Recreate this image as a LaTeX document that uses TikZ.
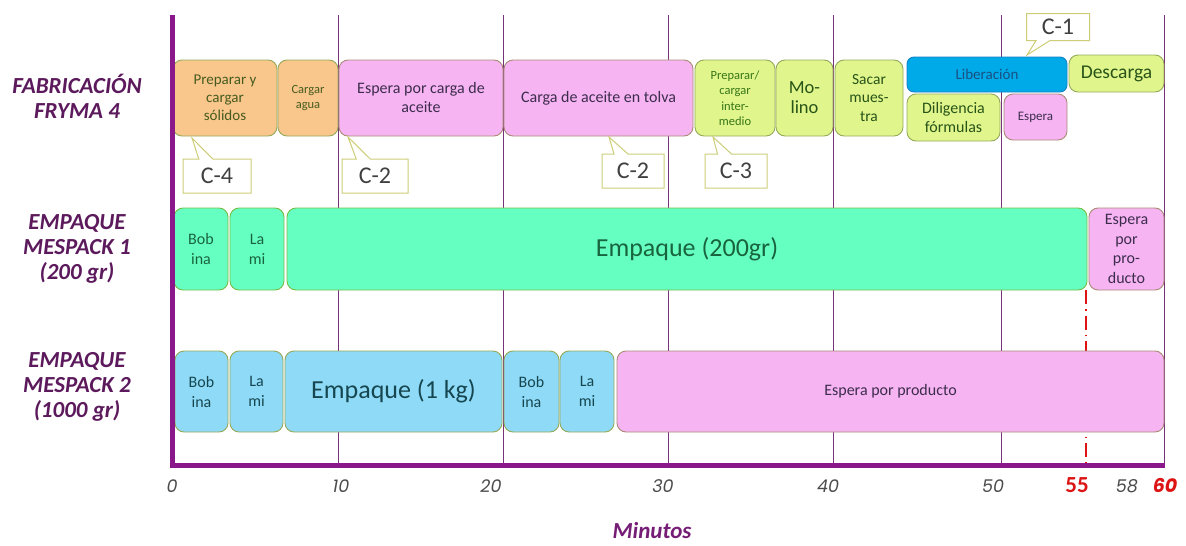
\documentclass[tikz,border=0pt]{standalone}
\usepackage{fontspec}
\setmainfont{Carlito}
\newfontfamily\axfont{Poppins}
\usetikzlibrary{shapes.callouts}
\definecolor{axpurple}{RGB}{138,24,138}
\definecolor{gridpurple}{RGB}{120,50,120}
\definecolor{labpurple}{RGB}{92,26,92}
\definecolor{minpurple}{RGB}{118,30,118}
\definecolor{orngF}{RGB}{249,198,140}
\definecolor{pnkF}{RGB}{246,180,242}
\definecolor{ygF}{RGB}{224,245,140}
\definecolor{bluF}{RGB}{0,170,232}
\definecolor{mintF}{RGB}{102,255,194}
\definecolor{lbluF}{RGB}{143,219,247}
\definecolor{olivB}{RGB}{150,170,90}
\definecolor{pnkB}{RGB}{170,140,120}
\definecolor{bluB}{RGB}{20,130,200}
\definecolor{callB}{RGB}{205,205,120}
\definecolor{olivT}{RGB}{70,92,30}
\definecolor{pnkT}{RGB}{60,44,76}
\definecolor{grnT}{RGB}{40,84,24}
\definecolor{lgrnT}{RGB}{56,118,24}
\definecolor{bluT}{RGB}{26,80,130}
\definecolor{mintT}{RGB}{24,100,62}
\definecolor{lbluT}{RGB}{22,70,80}
\definecolor{axgray}{RGB}{75,75,75}
\definecolor{redlbl}{RGB}{220,20,20}
\newcommand\tbox[7]{%
  \pgfmathsetmacro\bw{#4-#2}\pgfmathsetmacro\bh{#5-#3}%
  \node[#6, minimum width=\bw pt, minimum height=\bh pt] (#1) at ({(#2+#4)/2},{(#3+#5)/2}) {#7};}
\newcommand\fs[2]{\fontsize{#1}{#2}\selectfont}
\begin{document}
\begin{tikzpicture}[x=1pt,y=-1pt,
  tb/.style={draw, rounded corners=9pt, line width=0.9pt, align=center, inner sep=0pt},
  orng/.style={tb, fill=orngF, draw=olivB, text=olivT},
  pnk/.style={tb, fill=pnkF, draw=pnkB, text=pnkT},
  yg/.style={tb, fill=ygF, draw=olivB, text=grnT},
  blu/.style={tb, fill=bluF, draw=bluB, text=bluT, rounded corners=7pt},
  mint/.style={tb, fill=mintF, draw=olivB!80!green, text=mintT},
  lblu/.style={tb, fill=lbluF, draw=olivB, text=lbluT},
  callbox/.style={rectangle callout, draw=callB, fill=white, line width=1pt, text=black!75,
     font=\fs{24}{26}, callout pointer width=14pt, inner sep=0pt},
  rowlab/.style={align=center, text=labpurple, font=\bfseries\itshape\fs{23}{25}},
  axnum/.style={text=axgray, font=\axfont\itshape\fs{17.5}{19}},
  gridline/.style={draw=gridpurple, line width=0.8pt},
  axisline/.style={draw=axpurple, line width=5pt},
  redline/.style={draw=redlbl, line width=1.3pt, dash pattern=on 14pt off 5pt on 1.5pt off 5pt}]
\useasboundingbox (0,0) rectangle (1186,546);
\fill[white] (0,0) rectangle (1186,546);
% grid
\foreach \gx in {338,503,668,833,1001,1164}
  \draw[gridline] (\gx,15) -- (\gx,465);
\draw[redline] (1086,290) -- (1086,465);
% row 1
\tbox{rA}{173}{60}{277}{136}{orng, font=\fs{15}{18}}{Preparar y\\cargar\\sólidos}
\tbox{rB}{278}{60}{338}{136}{orng, font=\fs{12.5}{15.5}}{Cargar\\agua}
\tbox{rC}{339}{60}{503}{136}{pnk, font=\fs{16}{19}}{Espera por carga de\\aceite}
\tbox{rD}{504}{60}{693}{136}{pnk, font=\fs{16}{18}}{Carga de aceite en tolva}
\tbox{rE}{695}{60}{775}{136}{yg, text=lgrnT, font=\fs{12.5}{15.5}}{Preparar/\\cargar\\inter-\\medio}
\tbox{rF}{776}{60}{833}{136}{yg, font=\fs{18.5}{20}}{Mo-\\lino}
\tbox{rG}{835}{60}{903}{136}{yg, font=\fs{15.5}{18.5}}{Sacar\\mues-\\tra}
\tbox{lib}{907}{57}{1067}{92}{blu, font=\fs{15}{16}}{Liberación}
\tbox{dil}{907}{94}{1000}{141}{yg, font=\fs{16}{19}}{Diligencia\\fórmulas}
\tbox{esp}{1004}{94}{1067}{140}{pnk, font=\fs{13}{14}}{Espera}
\tbox{des}{1069}{55}{1164}{92}{yg, font=\fs{19.5}{20}}{Descarga}
% row 2
\tbox{bobA}{174}{208}{228}{290}{mint, font=\fs{16}{20}}{Bob\\ina}
\tbox{lamA}{230}{208}{284}{290}{mint, font=\fs{16}{20}}{La\\mi}
\tbox{empA}{287}{208}{1087}{290}{mint, font=\fs{26}{28}}{Empaque (200gr)}
\tbox{espA}{1089}{208}{1164}{290}{pnk, font=\fs{16}{19.5}}{Espera\\por\\pro-\\ducto}
% row 3
\tbox{bobB}{175}{351}{228}{432}{lblu, font=\fs{16}{20}}{Bob\\ina}
\tbox{lamB}{230}{351}{283}{432}{lblu, font=\fs{16}{20}}{La\\mi}
\tbox{empB}{285}{351}{502}{432}{lblu, font=\fs{26}{28}}{Empaque (1 kg)}
\tbox{bobC}{504}{351}{559}{432}{lblu, font=\fs{16}{20}}{Bob\\ina}
\tbox{lamC}{560}{351}{614}{432}{lblu, font=\fs{16}{20}}{La\\mi}
\tbox{espB}{617}{351}{1164}{432}{pnk, font=\fs{16}{18}}{Espera por producto}
% callouts
\node[callbox, minimum width=68pt, minimum height=34pt, callout absolute pointer={(192,138)}] (c4) at (217,176) {C-4};
\node[callbox, minimum width=66pt, minimum height=34pt, callout absolute pointer={(348,137)}] (c2a) at (375,176) {C-2};
\node[callbox, minimum width=62pt, minimum height=34pt, callout absolute pointer={(609,137)}] (c2b) at (633,171) {C-2};
\node[callbox, minimum width=62pt, minimum height=34pt, callout absolute pointer={(713,137)}] (c3) at (736,171) {C-3};
\node[callbox, minimum width=63pt, minimum height=27pt, callout absolute pointer={(1027,55)}] (c1) at (1058,27) {C-1};
% axes
\draw[axisline] (172,15) -- (172,467.5);
\draw[axisline] (169.5,465) -- (1165,465);
% row labels
\node[rowlab] (l1) at (77,96) {FABRICACIÓN\\FRYMA 4};
\node[rowlab] (l2) at (77,249) {EMPAQUE\\MESPACK 1\\(200 gr)};
\node[rowlab] (l3) at (77,387) {EMPAQUE\\MESPACK 2\\(1000 gr)};
% axis numbers
\node[axnum] (n0) at (172,486) {0};
\node[axnum] (n10) at (341,486) {10};
\node[axnum] (n20) at (491,486) {20};
\node[axnum] (n30) at (663,486) {30};
\node[axnum] (n40) at (828,486) {40};
\node[axnum] (n50) at (993,486) {50};
\node[text=redlbl, font=\bfseries\fs{23}{24}] (n55) at (1077,485) {55};
\node[axnum] (n58) at (1127,486) {58};
\node[text=redlbl, font=\axfont\bfseries\itshape\fs{19}{20}] (n60) at (1165,485) {60};
\node[text=minpurple, font=\bfseries\itshape\fs{23}{24}] (mins) at (652,531) {Minutos};
\end{tikzpicture}
\end{document}
